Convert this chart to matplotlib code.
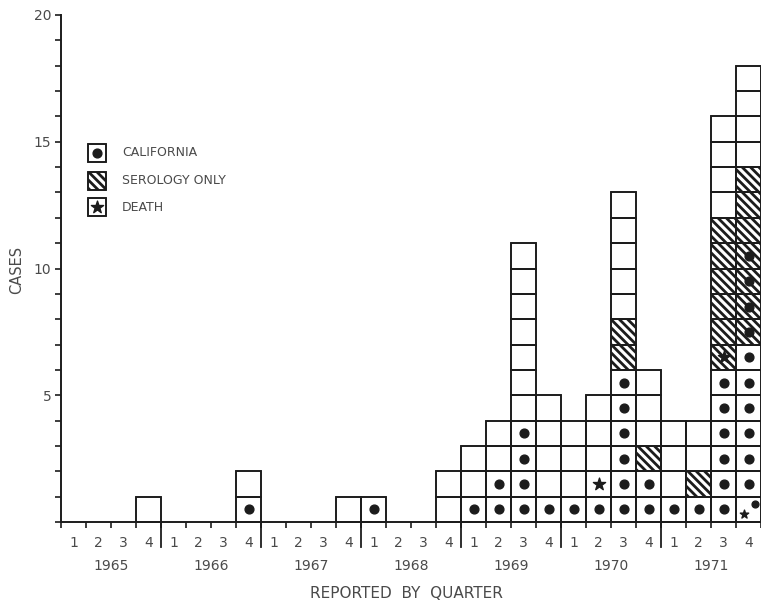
import numpy as np
import matplotlib
matplotlib.use("Agg")
import matplotlib.pyplot as plt
from matplotlib.patches import Rectangle

plt.rcParams['font.family'] = ['DejaVu Sans']
plt.rcParams['hatch.linewidth'] = 2.0

years = ["1965", "1966", "1967", "1968", "1969", "1970", "1971"]
quarter_labels = ["1", "2", "3", "4"] * 7

# cases per quarter, 1965 Q1 ... 1971 Q4, stacked bottom to top in this order
cal_death  = [0,0,0,0, 0,0,0,0, 0,0,0,0, 0,0,0,0, 0,0,0,0, 0,0,0,0, 0,0,0,1]
california = [0,0,0,0, 0,0,0,1, 0,0,0,0, 1,0,0,0, 1,2,4,1, 1,1,6,2, 1,1,6,6]
death      = [0,0,0,0, 0,0,0,0, 0,0,0,0, 0,0,0,0, 0,0,0,0, 0,1,0,0, 0,0,0,0]
sero_cal   = [0,0,0,0, 0,0,0,0, 0,0,0,0, 0,0,0,0, 0,0,0,0, 0,0,0,0, 0,0,0,4]
sero_death = [0,0,0,0, 0,0,0,0, 0,0,0,0, 0,0,0,0, 0,0,0,0, 0,0,0,0, 0,0,1,0]
serology   = [0,0,0,0, 0,0,0,0, 0,0,0,0, 0,0,0,0, 0,0,0,0, 0,0,2,1, 0,1,5,3]
other      = [0,0,0,1, 0,0,0,1, 0,0,0,1, 0,0,0,2, 2,2,7,4, 3,3,5,3, 3,2,4,4]

legend_labels = ["CALIFORNIA", "SEROLOGY ONLY", "DEATH"]

INK = "#1c1c1c"
TXT = "#4a4a4a"
LW = 1.2

fig = plt.figure(figsize=(7.61, 6.04), dpi=100)
ax = fig.add_axes([61/761, (604-522)/604, 700/761, 507/604])
ax.set_xlim(0, 28)
ax.set_ylim(0, 20)


def draw_cell(x, y, kind, w=1.0, h=1.0):
    hatched = kind in ("sero", "sero_cal", "sero_death")
    ax.add_patch(Rectangle((x, y), w, h, facecolor="white", edgecolor=INK,
                           linewidth=LW, hatch="\\\\\\\\" if hatched else None,
                           zorder=2, clip_on=False))
    ax.add_patch(Rectangle((x, y), w, h, facecolor="none", edgecolor=INK,
                           linewidth=LW, zorder=3, clip_on=False))
    cx, cy = x + w / 2, y + h / 2
    if kind in ("cal", "sero_cal"):
        ax.scatter([cx], [cy], s=40, color=INK, zorder=4, clip_on=False)
    elif kind in ("death", "sero_death"):
        ax.scatter([cx], [cy], s=85, marker="*", color=INK, zorder=4,
                   clip_on=False)
    elif kind == "cal_death":
        ax.scatter([cx - 0.2 * w], [cy - 0.18 * h], s=40, marker="*",
                   color=INK, zorder=4, clip_on=False)
        ax.scatter([cx + 0.25 * w], [cy + 0.2 * h], s=24, color=INK,
                   zorder=4, clip_on=False)


series = [("cal_death", cal_death), ("cal", california), ("death", death),
          ("sero_cal", sero_cal), ("sero_death", sero_death),
          ("sero", serology), ("plain", other)]

for q in range(len(quarter_labels)):
    level = 0
    for kind, vals in series:
        for _ in range(vals[q]):
            draw_cell(q, level, kind)
            level += 1

# axes styling
for s in ("top", "right"):
    ax.spines[s].set_visible(False)
for s in ("left", "bottom"):
    ax.spines[s].set_color(INK)
    ax.spines[s].set_linewidth(1.4)
    ax.spines[s].set_zorder(5)

ax.set_yticks(np.arange(0, 21, 5))
ax.set_yticklabels(["", "5", "10", "15", "20"])
ax.set_yticks(np.arange(0, 21, 1), minor=True)
ax.tick_params(axis="y", which="both", direction="out", length=4, width=1.2,
               color=INK, labelcolor=TXT, labelsize=10, pad=3)

ax.set_xticks(np.arange(len(quarter_labels)) + 0.5)
ax.set_xticklabels(quarter_labels)
ax.set_xticks(np.arange(0, 29, 1), minor=True)
ax.tick_params(axis="x", which="major", length=0, labelcolor=TXT,
               labelsize=10, pad=10)
ax.tick_params(axis="x", which="minor", direction="out", length=4, width=1.2,
               color=INK)

for k, yr in enumerate(years):
    ax.text(4 * k + 2, -1.72, yr, ha="center", va="center", color=TXT,
            fontsize=10)
    if k > 0:
        ax.plot([4 * k, 4 * k], [0, -1.0], color=INK, lw=1.3, clip_on=False,
                zorder=5)

fig.text(406/761, 1 - 593/604, "REPORTED  BY  QUARTER", ha="center",
         va="center", color=TXT, fontsize=11)
fig.text(17/761, 1 - 270/604, "CASES", rotation=90, ha="center",
         va="center", color=TXT, fontsize=10.5)

# legend
leg_kinds = ["cal", "sero", "death"]
leg_y = [14.56, 13.47, 12.41]
bw, bh = 0.72, 0.71
for kind, lab, yc in zip(leg_kinds, legend_labels, leg_y):
    draw_cell(1.44 - bw / 2, yc - bh / 2, kind, w=bw, h=bh)
    ax.text(2.44, yc, lab, ha="left", va="center", color=TXT, fontsize=9)

fig.savefig("out.png", dpi=100, facecolor="white")
